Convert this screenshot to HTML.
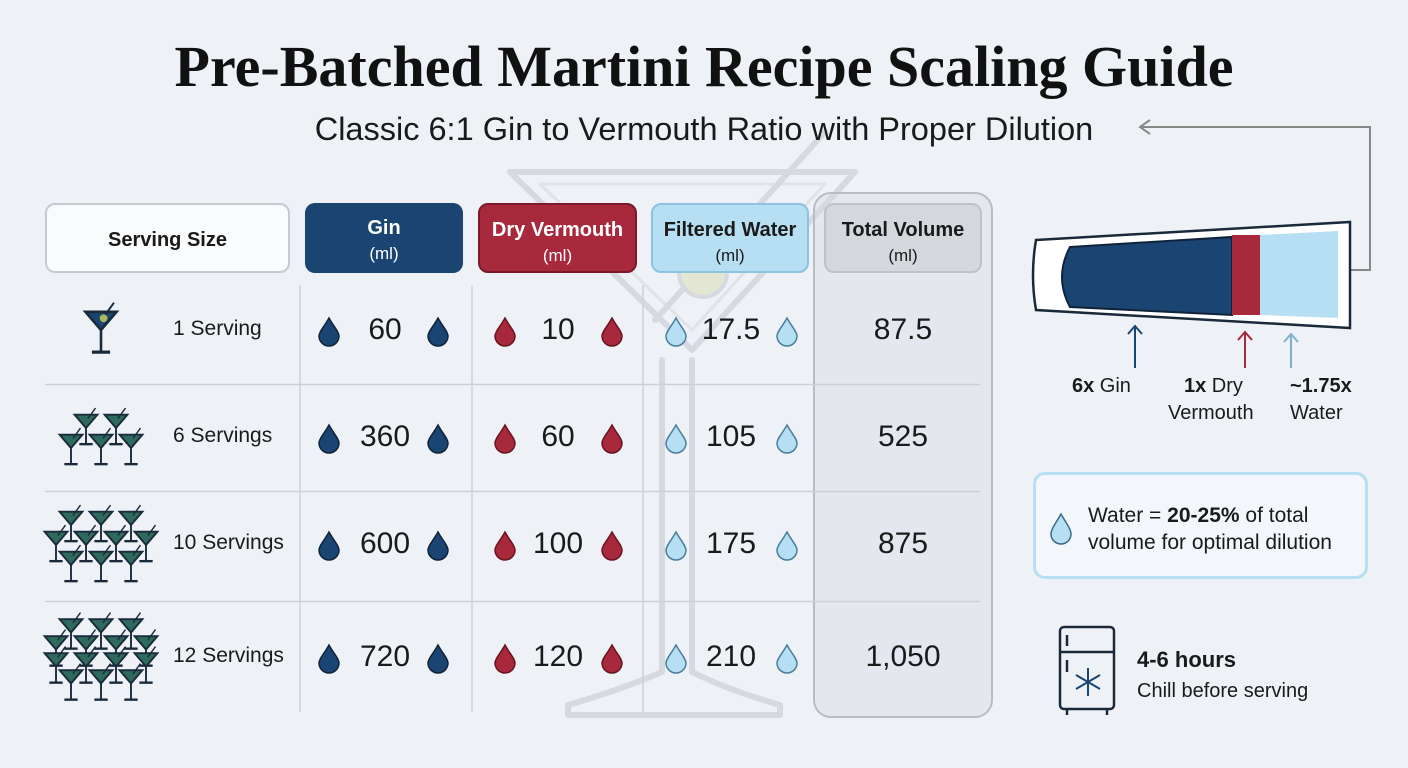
<!DOCTYPE html>
<html><head><meta charset="utf-8">
<style>
body{margin:0;background:#eef2f7;}
#root{position:relative;width:1408px;height:768px;overflow:hidden;background:#eef2f7;font-family:"Liberation Sans",sans-serif;color:#1a1a1a;}
.abs{position:absolute;}
.hdr{position:absolute;top:203px;height:70px;border-radius:10px;box-sizing:border-box;text-align:center;font-size:20px;font-weight:bold;padding-top:12px;line-height:26px;}
.hdr small{display:block;font-weight:normal;font-size:17px;}
.val{position:absolute;font-size:30px;text-align:center;width:120px;}
</style></head><body>
<div id="root">
<svg class="abs" style="left:0;top:0" width="1408" height="768">
  <g fill="none" stroke="#d6dae0" stroke-width="6" stroke-linejoin="round" stroke-linecap="round">
    <path d="M510 172 L855 172 L692 350 Z"/>
    <path d="M540 184 L825 184 L692 330 Z" stroke-width="3" opacity="0.6"/>
    <path d="M662 360 L662 672 Q620 690 568 705 L568 715 L780 715 L780 705 Q728 690 692 672 L692 360"/>
    <line x1="655" y1="320" x2="825" y2="132"/>
  </g>
  <circle cx="703" cy="273" r="24" fill="#e3e6d2" stroke="#d6dae0" stroke-width="4"/>
</svg>
<div class="abs" style="left:0;width:1408px;top:33px;text-align:center;font-family:'Liberation Serif',serif;font-weight:bold;font-size:58px;color:#111;">Pre-Batched Martini Recipe Scaling Guide</div>
<div class="abs" style="left:0;width:1408px;top:111px;text-align:center;font-size:32.5px;color:#1a1a1a;">Classic 6:1 Gin to Vermouth Ratio with Proper Dilution</div>
<svg class="abs" style="left:1120px;top:110px" width="260" height="180">
  <path d="M20 17 L250 17 L250 160 L36 160" fill="none" stroke="#888" stroke-width="2"/>
  <path d="M30 10 L20 17 L30 24" fill="none" stroke="#888" stroke-width="2"/>
  <path d="M46 153 L36 160 L46 167" fill="none" stroke="#888" stroke-width="2"/>
</svg>
<div class="abs" style="left:813px;top:192px;width:180px;height:526px;border:2px solid #b8bcc3;border-radius:18px;box-sizing:border-box;background:rgba(210,214,220,0.35);"></div>
<div class="hdr" style="left:45px;width:245px;background:#fafbfc;border:2px solid #c6cad0;padding-top:22px;">Serving Size</div>
<div class="hdr" style="left:305px;width:158px;background:#1a4472;color:#fff;">Gin<small>(ml)</small></div>
<div class="hdr" style="left:478px;width:159px;background:#a8283c;color:#fff;border:2px solid #7a1a2a;">Dry Vermouth<small>(ml)</small></div>
<div class="hdr" style="left:651px;width:158px;background:#b7dff3;color:#1a1a1a;border:2px solid #8cc3e0;">Filtered Water<small>(ml)</small></div>
<div class="hdr" style="left:824px;width:158px;background:#d4d7dc;color:#1a1a1a;border:2px solid #bfc3c9;">Total Volume<small>(ml)</small></div>
<svg id="tbl" class="abs" style="left:0;top:0" width="1408" height="768"></svg>
<div id="cells"></div>

<svg class="abs" style="left:1020px;top:190px" width="380" height="250">
  <path d="M16 50 L330 32 L330 138 L16 120 Q10 85 16 50 Z" fill="#fff" stroke="#1a2a3a" stroke-width="2.5"/>
  <path d="M50 57 L212 47 L212 125 L50 117 Q34 87 50 57 Z" fill="#1a4472" stroke="#10233a" stroke-width="2"/>
  <rect x="212" y="45" width="28" height="80" fill="#a8283c"/>
  <path d="M240 45 L318 41 L318 128 L240 125 Z" fill="#b7dff3"/>
  <g stroke-width="2" fill="none">
    <path d="M115 178 L115 136 M108 144 L115 136 L122 144" stroke="#1a4472"/>
    <path d="M225 178 L225 142 M218 150 L225 142 L232 150" stroke="#a8283c"/>
    <path d="M271 178 L271 144 M264 152 L271 144 L278 152" stroke="#7fb0cc"/>
  </g>
  <text x="52" y="202" font-size="20" font-family="Liberation Sans" fill="#1a1a1a"><tspan font-weight="bold">6x</tspan> Gin</text>
  <text x="164" y="202" font-size="20" font-family="Liberation Sans" fill="#1a1a1a"><tspan font-weight="bold">1x</tspan> Dry</text>
  <text x="148" y="229" font-size="20" font-family="Liberation Sans" fill="#1a1a1a">Vermouth</text>
  <text x="270" y="202" font-size="20" font-family="Liberation Sans" font-weight="bold" fill="#1a1a1a">~1.75x</text>
  <text x="270" y="229" font-size="20" font-family="Liberation Sans" fill="#1a1a1a">Water</text>
</svg>
<div class="abs" style="left:1033px;top:472px;width:335px;height:107px;border:3px solid #b7dff3;border-radius:12px;box-sizing:border-box;background:#f3f7fb;">
  <svg class="abs" style="left:12px;top:36px" width="26" height="34"><path d="M13 3 C18 12 23 18 23 23 A10 10 0 0 1 3 23 C3 18 8 12 13 3Z" fill="#b7dff3" stroke="#3a6a88" stroke-width="1.5"/></svg>
  <div class="abs" style="left:52px;top:27px;font-size:21px;line-height:27px;color:#1a1a1a;">Water = <b>20-25%</b> of total<br>volume for optimal dilution</div>
</div>
<svg class="abs" style="left:1055px;top:622px" width="65" height="95">
  <g fill="none" stroke="#1a2a3a" stroke-width="2.5">
    <rect x="5" y="5" width="54" height="82" rx="4"/>
    <line x1="5" y1="30" x2="59" y2="30"/>
    <line x1="12" y1="13" x2="12" y2="24"/><line x1="12" y1="38" x2="12" y2="50"/>
    <line x1="12" y1="87" x2="12" y2="93"/><line x1="52" y1="87" x2="52" y2="93"/>
    <g stroke="#1a4472" stroke-width="2"><line x1="33" y1="46" x2="33" y2="74"/><line x1="21" y1="53" x2="45" y2="67"/><line x1="21" y1="67" x2="45" y2="53"/></g>
  </g>
</svg>
<div class="abs" style="left:1137px;top:645px;font-size:22px;line-height:30px;"><b>4-6 hours</b><br><span style="font-size:20px">Chill before serving</span></div>
</div>
<script>
const servings=["1 Serving","6 Servings","10 Servings","12 Servings"];
const glassCounts=[1,6,10,12];
const gin=[60,360,600,720];
const vermouth=[10,60,100,120];
const water=[17.5,105,175,210];
const total=[87.5,525,875,1050];
const rowY=[331,438,545,658];
const NS="http://www.w3.org/2000/svg";
const tbl=document.getElementById('tbl');
const cells=document.getElementById('cells');
function fmt(v){return v.toLocaleString('en-US');}
[[300],[472],[643]].forEach(([x])=>{const l=document.createElementNS(NS,'line');l.setAttribute('x1',x);l.setAttribute('x2',x);l.setAttribute('y1',285);l.setAttribute('y2',712);l.setAttribute('stroke','#cdd1d7');l.setAttribute('stroke-width','1.5');


tbl.appendChild(l);});
for(let i=0;i<rowY.length-1;i++){const y=(rowY[i]+rowY[i+1])/2;const l=document.createElementNS(NS,'line');l.setAttribute('x1',45);l.setAttribute('x2',980);l.setAttribute('y1',y);l.setAttribute('y2',y);l.setAttribute('stroke','#cdd1d7');l.setAttribute('stroke-width','1.5');


tbl.appendChild(l);}
function drop(x,y,fill,stroke){const p=document.createElementNS(NS,'path');
p.setAttribute('d',`M${x} ${y-13} C${x+5} ${y-4} ${x+10} ${y+1} ${x+10} ${y+5} A10 10 0 0 1 ${x-10} ${y+5} C${x-10} ${y+1} ${x-5} ${y-4} ${x} ${y-13}Z`);
p.setAttribute('fill',fill);p.setAttribute('stroke',stroke);p.setAttribute('stroke-width','1.5');


tbl.appendChild(p);}
function glass(x,y,s,big){const g=document.createElementNS(NS,'g');
g.setAttribute('transform',`translate(${x},${y}) scale(${s})`);


g.innerHTML=`<path d="M-12 -14 L12 -14 L0 0 Z" fill="${big?'#1a4472':'#2e6a5e'}" stroke="#1a2a3a" stroke-width="2"/><line x1="0" y1="0" x2="0" y2="16" stroke="#1a2a3a" stroke-width="2"/><line x1="-7" y1="17" x2="7" y2="17" stroke="#1a2a3a" stroke-width="2.5"/><line x1="2" y1="-10" x2="10" y2="-21" stroke="#1a2a3a" stroke-width="1.5"/>`+(big?`<circle cx="2" cy="-9" r="3" fill="#a8b85a"/>`:'');
tbl.appendChild(g);}
function glassLayout(n){
 if(n===1)return [[1]];if(n===6)return [[2],[3]];if(n===10)return [[3],[4],[3]];return [[3],[4],[4],[3]];}
const cols=[{arr:gin,cx:385,d1:329,d2:438,f:'#1a4472',s:'#10233a',n:'gin'},
{arr:vermouth,cx:558,d1:505,d2:612,f:'#a8283c',s:'#6a1422',n:'vermouth'},
{arr:water,cx:731,d1:676,d2:787,f:'#b7dff3',s:'#4a7e9c',n:'water'}];
servings.forEach((lab,i)=>{
 const y=rowY[i];
 const d=document.createElement('div');d.className='abs';d.style.cssText=`left:173px;top:${y-14}px;font-size:21px;`;d.textContent=lab;
 
 
 cells.appendChild(d);
 const rows=glassLayout(glassCounts[i]);
 if(glassCounts[i]===1)glass(101,y-1,1.3,true);
 else{const h=rows.length;const sp=Math.min(20,68/h);
  rows.forEach((r,ri)=>{const c=r[0];const gy=y-(h-1)*sp/2+ri*sp;for(let k=0;k<c;k++){glass(101+(k-(c-1)/2)*30,gy,0.95,false);}});}
 cols.forEach(c=>{drop(c.d1,y,c.f,c.s);drop(c.d2,y,c.f,c.s);
  const v=document.createElement('div');v.className='val';v.style.left=(c.cx-60)+'px';v.style.top=(y-18)+'px';v.textContent=fmt(c.arr[i]);
  
  
  cells.appendChild(v);});
 const t=document.createElement('div');t.className='val';t.style.left='843px';t.style.top=(y-18)+'px';t.textContent=fmt(total[i]);
 
 
 cells.appendChild(t);
});
</script>
</body></html>
